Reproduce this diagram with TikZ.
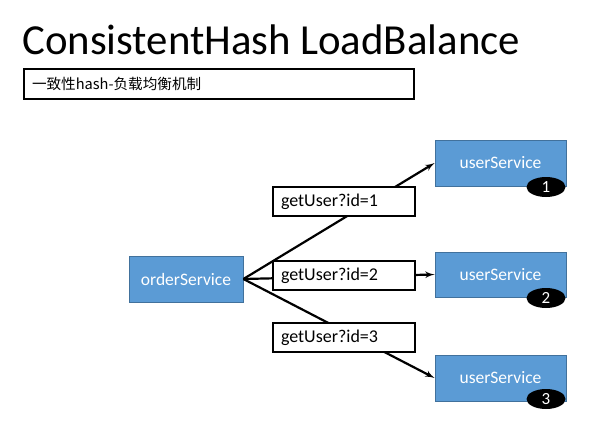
\documentclass[tikz,border=0pt]{standalone}
\usepackage{fontspec}
\setmainfont{Carlito}
\newfontfamily\cjk{Noto Sans CJK SC}
\usepackage{tikz}
\usetikzlibrary{arrows}
\definecolor{svcblue}{HTML}{5B9BD5}
\definecolor{svcline}{HTML}{41719C}
\tikzset{
    service/.style={rectangle,draw=svcline,fill=svcblue,text=white,line width=0.8pt,minimum height=46pt,font=\fontsize{17.5}{20}\selectfont},
    request/.style={rectangle,draw,fill=white,line width=1.5pt,minimum height=29pt,text width=126pt,inner xsep=8pt,align=left,font=\fontsize{18}{21}\selectfont},
    badge/.style={ellipse,fill=black,text=white,minimum width=39pt,minimum height=20pt,inner sep=0pt,font=\fontsize{17}{20}\selectfont},
    edge/.style={->,> = latex',line width=2.2pt}
}
\usetikzlibrary{shapes.geometric}

\begin{document}
\begin{tikzpicture}[x=1pt,y=-1pt]
\useasboundingbox (0,0) rectangle (613,444);
\node[anchor=base west,inner sep=0pt,font=\fontsize{42.8}{50}\selectfont] (title) at (22,55) {ConsistentHash LoadBalance};
\node[rectangle,draw,line width=1.5pt,minimum height=30pt,text width=374pt,inner xsep=8pt,align=left,font=\cjk\fontsize{14.6}{18}\selectfont] (sub) at (219,84) {一致性hash-负载均衡机制};

\node[service,minimum width=114pt] (order) at (186,279) {orderService};
\node[service,minimum width=131pt] (u1) at (500.5,163) {userService};
\node[service,minimum width=131pt,minimum height=45pt] (u2) at (500.5,274.5) {userService};
\node[service,minimum width=131pt] (u3) at (500.5,378) {userService};

\node[badge] (b1) at (546,187) {1};
\node[badge] (b2) at (546,298) {2};
\node[badge] (b3) at (546,399) {3};

\draw[edge] (order.east) to (u1.west);
\draw[edge] (order.east) to (u2.west);
\draw[edge] (order.east) to (u3.west);

\node[request] (r1) at (344,201.5) {getUser?id=1};
\node[request] (r2) at (344,275.5) {getUser?id=2};
\node[request] (r3) at (344,337.5) {getUser?id=3};
\end{tikzpicture}
\end{document}
